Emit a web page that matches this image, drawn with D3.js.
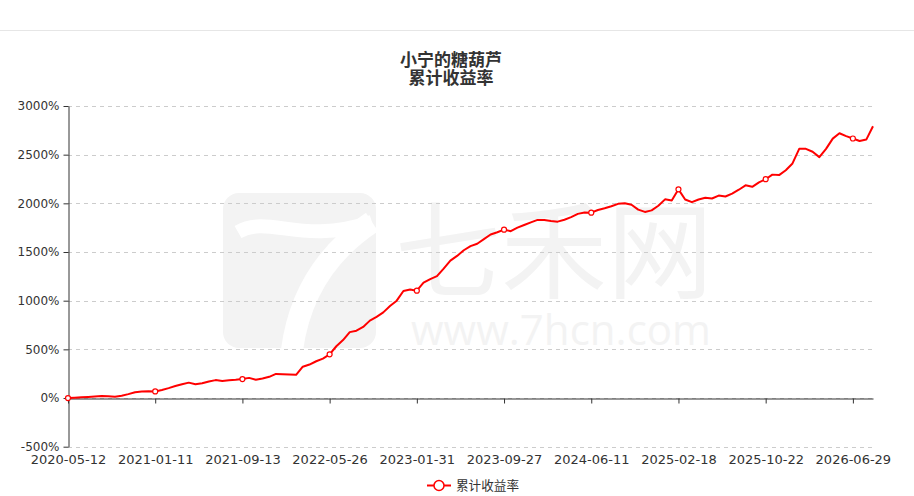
<!DOCTYPE html>
<html>
<head>
<meta charset="utf-8">
<script src="https://cdn.jsdelivr.net/npm/d3@7"></script>
<style>
  body { margin: 0; background: #fff; }
</style>
</head>
<body>
<div id="chart"></div>
<script>
var chartTitle = ['小宁的糖葫芦', '累计收益率'];
var seriesName = '累计收益率';

// x axis shows every 13th point
var labelEvery = 13;
var tickLabels = ['2020-05-12', '2021-01-11', '2021-09-13', '2022-05-26', '2023-01-31',
  '2023-09-27', '2024-06-11', '2025-02-18', '2025-10-22', '2026-06-29'];

var yTicks = [-500, 0, 500, 1000, 1500, 2000, 2500, 3000];

// cumulative return, %
var returnValues = [
  0, 4, 8, 11, 15, 20, 18, 14, 24, 40, 60, 67, 70,
  68, 83, 102, 124, 142, 158, 142, 152, 170, 184, 176, 182, 187,
  195, 207, 188, 200, 218, 248, 245, 242, 238, 322, 344, 378, 405,
  449, 532, 595, 677, 692, 730, 795, 834, 880, 945, 1000, 1100, 1114,
  1103, 1185, 1222, 1252, 1330, 1412, 1460, 1518, 1560, 1585, 1632, 1680, 1703,
  1730, 1714, 1750, 1778, 1805, 1830, 1828, 1818, 1812, 1832, 1858, 1892, 1906,
  1904, 1932, 1950, 1970, 1995, 2000, 1985, 1935, 1912, 1928, 1975, 2041, 2030,
  2144, 2040, 2012, 2040, 2058, 2050, 2080, 2070, 2100, 2140, 2185, 2170, 2215,
  2248, 2295, 2290, 2340, 2410, 2560, 2560, 2530, 2475, 2560, 2665, 2720, 2690,
  2666, 2640, 2655, 2792
];

function renderChart(bindTag, width, height) {

  var plot = { left: 68, right: 873, top: 106, bottom: 446.7 };
  var lineColor = '#ff0000';

  var svg = d3.select(bindTag).append('svg')
    .attr('width', width)
    .attr('height', height)
    .style('font-family', '"DejaVu Sans", sans-serif');

  // thin rule across the top of the panel
  svg.append('line')
    .attr('x1', 0).attr('x2', width)
    .attr('y1', 30.5).attr('y2', 30.5)
    .style('stroke', '#e6e6e6');

  drawWatermark(svg);

  var x = d3.scaleLinear()
    .domain([0, returnValues.length - 1])
    .range([plot.left, plot.right]);

  var y = d3.scaleLinear()
    .domain([-500, 3000])
    .range([plot.bottom, plot.top]);

  // title
  var title = svg.append('text')
    .attr('text-anchor', 'middle')
    .style('font-family', '"Noto Sans CJK SC", sans-serif')
    .style('font-weight', 'bold')
    .style('font-size', '17px')
    .style('fill', '#333');
  title.append('tspan').attr('x', 451).attr('y', 66).text(chartTitle[0]);
  title.append('tspan').attr('x', 451).attr('y', 84).text(chartTitle[1]);

  // dashed grid
  svg.append('g').selectAll('line')
    .data(yTicks)
    .enter().append('line')
    .attr('x1', plot.left).attr('x2', plot.right)
    .attr('y1', function (d) { return Math.round(y(d)) + 0.5; })
    .attr('y2', function (d) { return Math.round(y(d)) + 0.5; })
    .style('stroke', '#cccccc')
    .style('stroke-dasharray', '4,4');

  // y axis
  var yAxis = svg.append('g')
    .attr('transform', 'translate(' + (plot.left + 0.5) + ',0)')
    .call(d3.axisLeft(y).tickValues(yTicks).tickSize(5).tickSizeOuter(0).tickPadding(4)
      .tickFormat(function (d) { return d + '%'; }));
  yAxis.select('.domain').style('stroke', '#333');
  yAxis.selectAll('.tick line').style('stroke', '#333');
  yAxis.selectAll('text').style('font-size', '12px').style('fill', '#333')
    .style('font-family', '"DejaVu Sans", sans-serif');

  // x axis sits on zero, labels go below the plot
  var tickIdx = tickLabels.map(function (d, i) { return i * labelEvery; });
  var xAxis = svg.append('g')
    .attr('transform', 'translate(0,' + (Math.round(y(0)) + 0.5) + ')')
    .call(d3.axisBottom(x).tickValues(tickIdx).tickSize(5).tickSizeOuter(0)
      .tickFormat(function (d) { return tickLabels[d / labelEvery]; }));
  xAxis.select('.domain').style('stroke', '#333');
  xAxis.selectAll('.tick line').style('stroke', '#333');
  xAxis.selectAll('text')
    .attr('y', 463.5 - Math.round(y(0)) - 0.5)
    .attr('dy', null)
    .style('font-size', '13px')
    .style('fill', '#333')
    .style('font-family', '"DejaVu Sans", sans-serif');

  // the series
  var line = d3.line()
    .x(function (d, i) { return x(i); })
    .y(function (d) { return y(d); });

  svg.append('path')
    .datum(returnValues)
    .attr('d', line)
    .style('fill', 'none')
    .style('stroke', lineColor)
    .style('stroke-width', 2)
    .style('stroke-linejoin', 'round');

  svg.append('g').selectAll('circle')
    .data(tickIdx)
    .enter().append('circle')
    .attr('cx', function (d) { return x(d); })
    .attr('cy', function (d) { return y(returnValues[d]); })
    .attr('r', 2.5)
    .style('fill', '#fff')
    .style('stroke', lineColor)
    .style('stroke-width', 1.2);

  // legend
  var legend = svg.append('g').attr('transform', 'translate(427,485.5)');
  legend.append('line')
    .attr('x1', 0).attr('x2', 24)
    .style('stroke', lineColor)
    .style('stroke-width', 2);
  legend.append('circle')
    .attr('cx', 12).attr('r', 5)
    .style('fill', '#fff')
    .style('stroke', lineColor)
    .style('stroke-width', 1.5);
  legend.append('text')
    .attr('x', 29).attr('dy', '0.35em')
    .style('font-family', '"Noto Sans CJK SC", sans-serif')
    .style('font-size', '12.6px')
    .style('fill', '#333')
    .text(seriesName);
}

// faint site watermark behind the plot
function drawWatermark(svg) {
  var wm = svg.append('g').style('fill', '#f3f3f3');

  wm.append('rect')
    .attr('x', 223).attr('y', 193)
    .attr('width', 153).attr('height', 155)
    .attr('rx', 16);
  wm.append('path')
    .attr('d', 'M238,232 C270,214 300,246 372,222')
    .style('fill', 'none')
    .style('stroke', '#fff')
    .style('stroke-width', 14);
  wm.append('path')
    .attr('d', 'M372,222 C330,250 300,290 292,350')
    .style('fill', 'none')
    .style('stroke', '#fff')
    .style('stroke-width', 22);
  wm.append('path')
    .attr('d', 'M230,285 L265,285 L265,350 L230,350 Z')
    .style('fill', '#fff')
    .style('opacity', 0);

  wm.append('text')
    .attr('x', 395).attr('y', 290)
    .attr('textLength', 318)
    .style('font-family', '"Noto Sans CJK SC", sans-serif')
    .style('font-size', '106px')
    .text('七禾网');
  wm.append('text')
    .attr('x', 411).attr('y', 345)
    .attr('textLength', 300)
    .style('font-family', '"Open Sans", sans-serif')
    .style('font-size', '42px')
    .text('www.7hcn.com');
}

renderChart('#chart', 914, 496);
</script>
</body>
</html>
